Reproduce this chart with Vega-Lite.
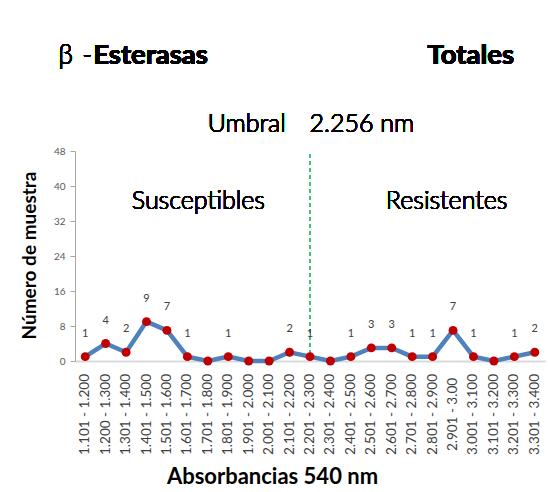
{
  "$schema": "https://vega.github.io/schema/vega-lite/v6.json",
  "autosize": "none",
  "width": 470,
  "height": 210,
  "padding": {"left": 75, "top": 151, "right": 3, "bottom": 131},
  "background": "white",
  "config": {"view": {"stroke": null}, "font": "Lato"},
  "datasets": {
    "main": [
      {"rango": "1.101 - 1.200", "n": 1},
      {"rango": "1.200 - 1.300", "n": 4},
      {"rango": "1.301 - 1.400", "n": 2},
      {"rango": "1.401 - 1.500", "n": 9},
      {"rango": "1.501 - 1.600", "n": 7},
      {"rango": "1.601 - 1.700", "n": 1},
      {"rango": "1.701 - 1.800", "n": 0},
      {"rango": "1.801 - 1.900", "n": 1},
      {"rango": "1.901 - 2.000", "n": 0},
      {"rango": "2.001 - 2.100", "n": 0},
      {"rango": "2.101 - 2.200", "n": 2},
      {"rango": "2.201 - 2.300", "n": 1},
      {"rango": "2.301 - 2.400", "n": 0},
      {"rango": "2.401 - 2.500", "n": 1},
      {"rango": "2.501 - 2.600", "n": 3},
      {"rango": "2.601 - 2.700", "n": 3},
      {"rango": "2.701 - 2.800", "n": 1},
      {"rango": "2.801 - 2.900", "n": 1},
      {"rango": "2.901 - 3.00", "n": 7},
      {"rango": "3.001 - 3.100", "n": 1},
      {"rango": "3.101 - 3.200", "n": 0},
      {"rango": "3.201 - 3.300", "n": 1},
      {"rango": "3.301 - 3.400", "n": 2}
    ]
  },
  "data": {"name": "main"},
  "encoding": {
    "x": {
      "field": "rango", "type": "ordinal", "sort": null,
      "scale": {"domain": ["1.101 - 1.200", "1.200 - 1.300", "1.301 - 1.400", "1.401 - 1.500", "1.501 - 1.600", "1.601 - 1.700", "1.701 - 1.800", "1.801 - 1.900", "1.901 - 2.000", "2.001 - 2.100", "2.101 - 2.200", "2.201 - 2.300", "2.301 - 2.400", "2.401 - 2.500", "2.501 - 2.600", "2.601 - 2.700", "2.701 - 2.800", "2.801 - 2.900", "2.901 - 3.00", "3.001 - 3.100", "3.101 - 3.200", "3.201 - 3.300", "3.301 - 3.400"]},
      "axis": {
        "title": "Absorbancias 540 nm",
        "titleFontSize": 22, "titleFontWeight": "bold", "titleColor": "#000000",
        "titleX": 197, "titleY": 122, "titleBaseline": "alphabetic",
        "labelAngle": -90, "labelAlign": "center", "labelBaseline": "middle",
        "labelPadding": 53, "labelFontSize": 13.5, "labelColor": "#404040",
        "labelOverlap": false, "labelBound": false, "labelFlush": false,
        "ticks": false, "tickSize": 0,
        "domainColor": "#D9D9D9", "domainWidth": 2, "zindex": 0
      }
    },
    "y": {
      "field": "n", "type": "quantitative",
      "scale": {"domain": [0, 48], "nice": false},
      "axis": {
        "title": "Número de muestra",
        "titleFontSize": 19, "titleFontWeight": "bold", "titleColor": "#000000",
        "titleX": -46, "titleY": 104, "titleBaseline": "middle", "titleAlign": "center",
        "values": [0, 8, 16, 24, 32, 40, 48],
        "grid": false, "labelFontSize": 10, "labelColor": "#595959",
        "tickSize": 5, "labelPadding": 5, "tickColor": "#A6A6A6",
        "domainColor": "#A6A6A6", "zindex": 0
      }
    }
  },
  "layer": [
    {
      "transform": [{"filter": "datum.rango == '2.201 - 2.300'"}],
      "mark": {"type": "rule", "color": "#00B050", "strokeDash": [4, 3], "strokeWidth": 1.5},
      "encoding": {"y": {"datum": 0}, "y2": {"datum": 48}}
    },
    {"mark": {"type": "line", "color": "#4F81BD", "strokeWidth": 4.5}},
    {"mark": {"type": "point", "filled": true, "color": "#C00000", "size": 80, "opacity": 1}},
    {
      "transform": [{"filter": "datum.n > 0"}],
      "mark": {"type": "text", "dy": -23, "fontSize": 11, "color": "#404040", "baseline": "middle"},
      "encoding": {"text": {"field": "n"}}
    },
    {
      "mark": {"type": "text", "align": "left", "baseline": "middle", "fontSize": 27, "fontWeight": 300, "dx": -27, "color": "#000000"},
      "encoding": {"x": {"datum": "1.101 - 1.200"}, "y": {"datum": 69.7}, "text": {"value": "β"}}
    },
    {
      "mark": {"type": "text", "align": "left", "baseline": "middle", "fontSize": 27, "fontWeight": 300, "dx": -3, "color": "#000000"},
      "encoding": {"x": {"datum": "1.101 - 1.200"}, "y": {"datum": 69.7}, "text": {"value": "-"}}
    },
    {
      "mark": {"type": "text", "align": "left", "baseline": "middle", "fontSize": 27.5, "fontWeight": "bold", "dx": 8, "color": "#000000"},
      "encoding": {"x": {"datum": "1.101 - 1.200"}, "y": {"datum": 69.7}, "text": {"value": "Esterasas"}}
    },
    {
      "mark": {"type": "text", "align": "left", "baseline": "middle", "fontSize": 27.5, "fontWeight": "bold", "dx": -5, "color": "#000000"},
      "encoding": {"x": {"datum": "2.801 - 2.900"}, "y": {"datum": 69.7}, "text": {"value": "Totales"}}
    },
    {
      "mark": {"type": "text", "align": "center", "baseline": "middle", "fontSize": 25, "fontWeight": 300, "dx": -2, "color": "#000000"},
      "encoding": {"x": {"datum": "1.901 - 2.000"}, "y": {"datum": 54.2}, "text": {"value": "Umbral"}}
    },
    {
      "mark": {"type": "text", "align": "center", "baseline": "middle", "fontSize": 25, "fontWeight": 300, "dx": 11, "color": "#000000"},
      "encoding": {"x": {"datum": "2.401 - 2.500"}, "y": {"datum": 54.2}, "text": {"value": "2.256 nm"}}
    },
    {
      "mark": {"type": "text", "align": "center", "baseline": "middle", "fontSize": 25, "fontWeight": 300, "dx": 11, "color": "#000000"},
      "encoding": {"x": {"datum": "1.601 - 1.700"}, "y": {"datum": 36.5}, "text": {"value": "Susceptibles"}}
    },
    {
      "mark": {"type": "text", "align": "center", "baseline": "middle", "fontSize": 25, "fontWeight": 300, "dx": 14, "color": "#000000"},
      "encoding": {"x": {"datum": "2.801 - 2.900"}, "y": {"datum": 36.5}, "text": {"value": "Resistentes"}}
    }
  ]
}
